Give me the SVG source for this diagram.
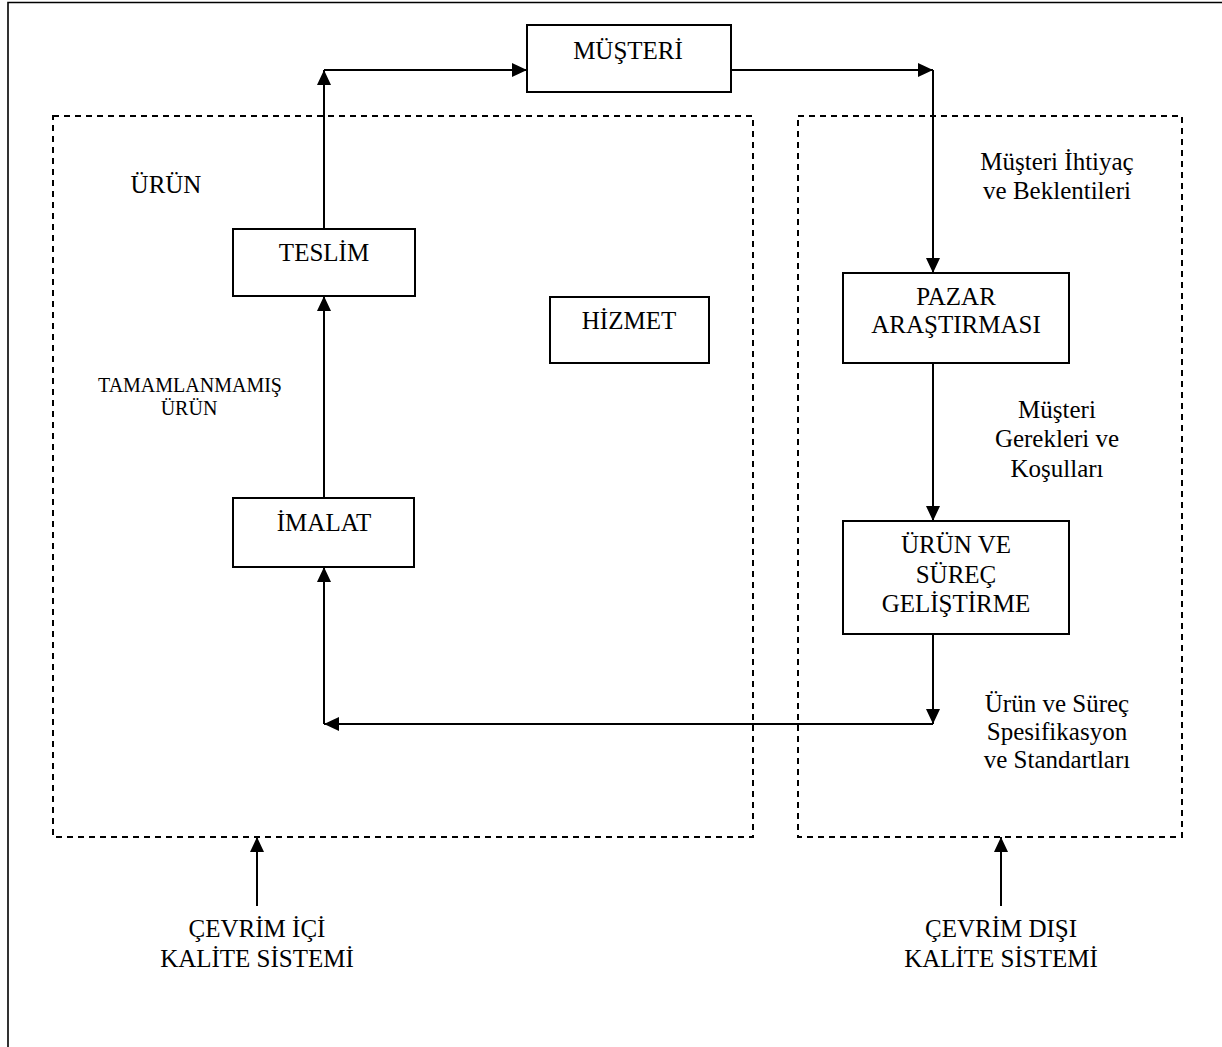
<svg xmlns="http://www.w3.org/2000/svg" width="1222" height="1047" viewBox="0 0 1222 1047" font-family="'Liberation Serif', 'Times New Roman', serif">
  <style>
    text { font-family: "Liberation Serif", "Times New Roman", serif; fill: #000; text-anchor: middle; }
    .t24 { font-size: 25px; }
    .t20 { font-size: 20px; }
    .box { fill: #fff; stroke: #000; stroke-width: 2; }
    .zone { fill: none; stroke: #000; stroke-width: 2; stroke-dasharray: 6 5; }
    .frame { fill: none; stroke: #000; stroke-width: 1.6; }
    .link { fill: none; stroke: #000; stroke-width: 2; marker-end: url(#arrow); }
  </style>
  <defs>
    <marker id="arrow" markerUnits="userSpaceOnUse" markerWidth="15" markerHeight="14" refX="15" refY="7" orient="auto">
      <path d="M0,0 L15,7 L0,14 z" fill="#000"/>
    </marker>
  </defs>

  <rect width="1222" height="1047" fill="#fff"/>

  <!-- page frame: top and left edges -->
  <path class="frame" d="M8,1047 V2.5 H1222"/>

  <!-- system zones -->
  <g id="zone-online">
    <rect class="zone" x="53" y="116" width="700" height="721"/>
    <text class="t24" x="166" y="193">ÜRÜN</text>
    <text class="t20" x="190" y="392">TAMAMLANMAMIŞ</text>
    <text class="t20" x="189" y="415">ÜRÜN</text>
  </g>
  <g id="zone-offline">
    <rect class="zone" x="798" y="116" width="384" height="721"/>
  </g>

  <!-- connectors -->
  <g id="connectors">
    <path class="link" d="M324,228 V70"/>
    <path class="link" d="M324,70 H527"/>
    <path class="link" d="M731,70 H933"/>
    <path class="link" d="M933,70 V273"/>
    <path class="link" d="M933,363 V521"/>
    <path class="link" d="M933,634 V724"/>
    <path class="link" d="M933,724 H324"/>
    <path class="link" d="M324,724 V567"/>
    <path class="link" d="M324,498 V296"/>
    <path class="link" d="M257,906 V837"/>
    <path class="link" d="M1001,906 V837"/>
  </g>

  <!-- flow labels -->
  <g id="label-needs">
    <text class="t24" x="1057" y="170">Müşteri İhtiyaç</text>
    <text class="t24" x="1057" y="199">ve Beklentileri</text>
  </g>
  <g id="label-requirements">
    <text class="t24" x="1057" y="418">Müşteri</text>
    <text class="t24" x="1057" y="447">Gerekleri ve</text>
    <text class="t24" x="1057" y="477">Koşulları</text>
  </g>
  <g id="label-specs">
    <text class="t24" x="1057" y="712">Ürün ve Süreç</text>
    <text class="t24" x="1057" y="740">Spesifikasyon</text>
    <text class="t24" x="1057" y="768">ve Standartları</text>
  </g>

  <!-- nodes -->
  <g id="node-musteri">
    <rect class="box" x="527" y="25" width="204" height="67"/>
    <text class="t24" x="628" y="59">MÜŞTERİ</text>
  </g>
  <g id="node-teslim">
    <rect class="box" x="233" y="229" width="182" height="67"/>
    <text class="t24" x="324" y="261">TESLİM</text>
  </g>
  <g id="node-hizmet">
    <rect class="box" x="550" y="297" width="159" height="66"/>
    <text class="t24" x="629" y="329">HİZMET</text>
  </g>
  <g id="node-imalat">
    <rect class="box" x="233" y="498" width="181" height="69"/>
    <text class="t24" x="324" y="531">İMALAT</text>
  </g>
  <g id="node-pazar">
    <rect class="box" x="843" y="273" width="226" height="90"/>
    <text class="t24" x="956" y="305">PAZAR</text>
    <text class="t24" x="956" y="333">ARAŞTIRMASI</text>
  </g>
  <g id="node-gelistirme">
    <rect class="box" x="843" y="521" width="226" height="113"/>
    <text class="t24" x="956" y="553">ÜRÜN VE</text>
    <text class="t24" x="956" y="583">SÜREÇ</text>
    <text class="t24" x="956" y="612">GELİŞTİRME</text>
  </g>

  <!-- system captions -->
  <g id="caption-online">
    <text class="t24" x="257" y="937">ÇEVRİM İÇİ</text>
    <text class="t24" x="257" y="967">KALİTE SİSTEMİ</text>
  </g>
  <g id="caption-offline">
    <text class="t24" x="1001" y="937">ÇEVRİM DIŞI</text>
    <text class="t24" x="1001" y="967">KALİTE SİSTEMİ</text>
  </g>
</svg>
